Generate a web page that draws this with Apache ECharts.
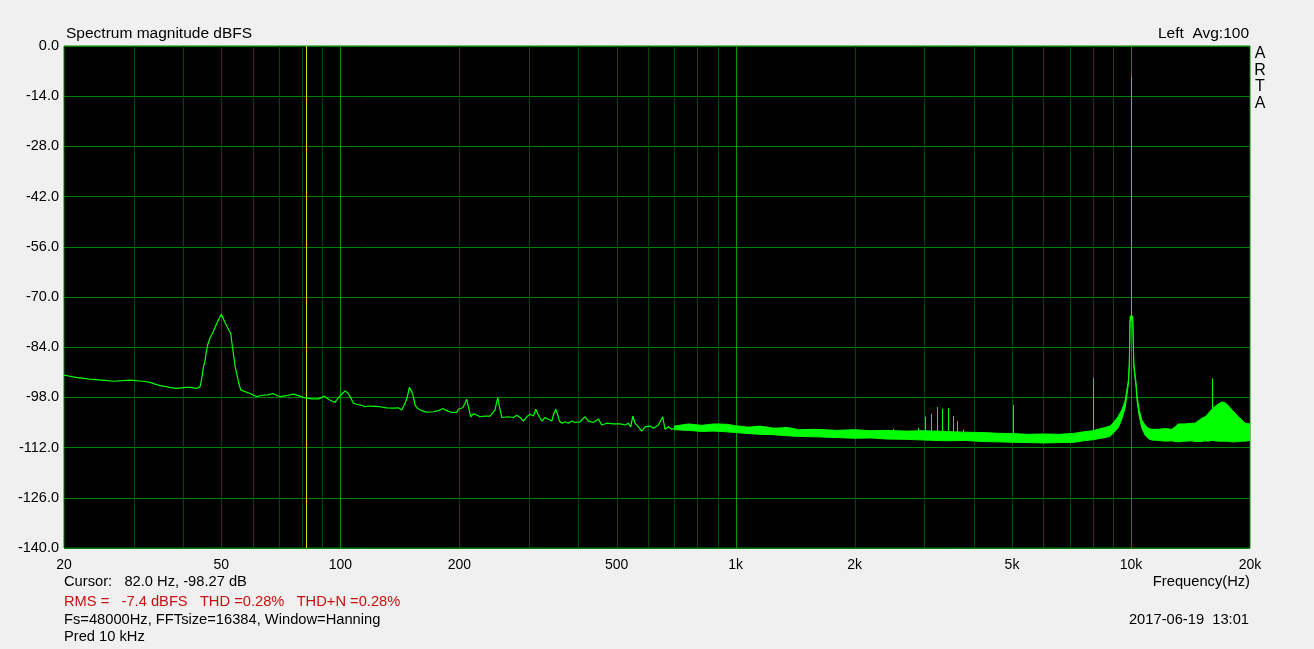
<!DOCTYPE html>
<html><head><meta charset="utf-8">
<script src="https://cdn.jsdelivr.net/npm/echarts@6/dist/echarts.min.js"></script>
<style>html,body{margin:0;padding:0;background:#f0f0f0;}#c{width:1314px;height:649px;}</style>
</head><body><div id="c"></div>
<script>
// ---- data ----
const xTickLabels = [20, 50, 100, 200, 500, 1000, 2000, 5000, 10000, 20000];
const gridMajorFreq = [100, 1000, 10000];
const gridMinorFreq = [30, 40, 50, 60, 70, 80, 90, 200, 300, 400, 500, 600, 700, 800, 900,
  2000, 3000, 4000, 5000, 6000, 7000, 8000, 9000];
const cursorFreq = [82.0];

// smooth low-frequency part of the spectrum (Hz, dBFS)
const lowFreq = [20.0, 20.7, 21.4, 22.5, 23.5, 25.0, 26.8, 29.4, 31.7, 33.0, 34.0, 35.0, 36.0, 36.9, 38.4,
  40.7, 41.7, 43.3, 43.7, 44.2, 44.6, 45.0, 45.5, 45.9, 46.3, 46.8, 47.7, 48.7, 50.0, 51.1, 52.1, 52.8,
  53.4, 54.2, 54.9, 55.4, 56.0, 57.4, 59.1, 61.5, 63.3, 65.7, 67.5, 69.0, 70.4, 72.5, 76.1, 78.3, 80.6,
  82.2, 84.7, 88.0, 89.7, 91.0, 93.3, 95.1, 97.0, 97.9, 99.8, 102.8, 104.8, 106.3, 107.9, 110.0, 113.3,
  115.5, 117.7, 122.0, 126.0, 131.0, 136.2, 140.2, 143.0, 145.8, 147.8, 149.5, 151.6, 153.0, 154.5,
  156.6, 160.7, 165.4, 171.9, 177.0, 181.6, 185.9, 191.3, 197.0, 198.8, 204.0, 206.7, 208.8, 210.8,
  213.8, 217.0, 221.3, 225.6, 232.3, 239.2, 246.3, 248.7, 250.2, 252.6, 256.1, 266.1, 273.9, 279.4,
  284.9, 290.4, 296.2, 302.0, 307.8, 312.2, 317.0, 323.3, 329.5, 336.0, 342.7, 345.9, 350.8, 354.8,
  358.2, 363.3, 370.3, 377.5, 385.0, 392.4, 404.0, 416.0, 424.0, 436.6, 449.4, 458.4, 472.0, 490.6,
  510.0, 525.2, 535.2, 542.8, 549.2, 556.6, 567.4, 578.6, 590.0, 607.4, 619.2, 637.4, 654.0, 662.8,
  675.8, 689.2, 709.6, 723.4];
const lowDb = [-91.8, -92.1, -92.4, -92.7, -93.0, -93.2, -93.5, -93.2, -93.5, -93.8, -94.3, -94.7, -94.9, -95.2, -95.5,
  -95.2, -95.2, -95.5, -95.7, -95.0, -92.7, -89.9, -87.6, -84.8, -82.9, -81.5, -79.7, -77.3, -74.8, -77.1, -79.0, -80.1,
  -84.3, -89.4, -92.2, -94.2, -95.9, -96.4, -96.9, -97.8, -97.4, -97.3, -96.9, -97.4, -97.8, -97.6, -97.1, -97.5, -98.0,
  -98.2, -98.4, -98.4, -98.0, -97.6, -98.5, -99.0, -99.4, -98.7, -97.6, -96.2, -96.9, -98.2, -99.6, -99.9, -100.2,
  -100.6, -100.4, -100.5, -100.6, -100.9, -101.0, -100.9, -101.5, -99.6, -97.8, -95.2, -96.4, -97.8, -100.1,
  -101.0, -101.7, -102.1, -102.0, -101.7, -101.1, -101.7, -102.2, -102.2, -101.3, -100.9, -99.6, -98.5, -100.6,
  -103.4, -102.6, -102.9, -103.4, -103.2, -103.2, -101.5, -99.2, -98.1, -100.6, -103.6, -103.4, -103.6, -103.0,
  -103.6, -104.6, -103.4, -102.7, -103.2, -101.3, -102.9, -104.6, -103.6, -104.1, -104.6, -102.9, -101.3, -102.9,
  -104.6, -105.2, -104.8, -105.2, -104.6, -105.0, -104.8, -103.4, -104.6, -105.0, -104.0, -105.7, -105.2, -105.4,
  -105.4, -105.7, -105.2, -106.2, -103.2, -105.2, -106.2, -107.4, -106.2, -106.0, -106.6, -105.7, -103.4, -106.9,
  -106.2, -106.9, -106.4, -106.9];

// dense noise floor above ~700 Hz: upper and lower envelope (Hz, dBFS)
const bandFreq = [700, 760, 820, 880, 950, 1000, 1080, 1150, 1250, 1350, 1450, 1600, 1800, 2000, 2200, 2400,
  2700, 3000, 3400, 3800, 4200, 4600, 5000, 5500, 6000, 6600, 7200, 7600, 8000, 8400, 8850, 9010, 9280,
  9480, 9660, 9760, 9850, 9900, 9948, 10100, 10170, 10283, 10365, 10490, 10648, 10854, 11066, 11288,
  11732, 12196, 12682, 12928, 13180, 13704, 14252, 14528, 15108, 15400, 15700, 16014, 16642, 16974,
  17300, 17638, 17990, 18340, 18696, 19070, 19438, 20000];
const bandTop = [-106.0, -105.4, -105.8, -105.4, -105.5, -105.9, -106.3, -106.0, -106.6, -106.4, -107.0, -106.9, -107.2, -107.0, -107.3, -107.2,
  -107.4, -107.3, -107.5, -107.7, -107.8, -108.0, -108.1, -108.3, -108.2, -108.3, -108.0, -107.6, -107.3, -106.7, -106.0, -105.2, -103.3,
  -101.5, -99.0, -96.0, -93.2, -88.7, -75.3, -75.3, -88.7, -93.1, -97.8, -101.5, -104.3, -105.7, -106.6, -106.9,
  -106.9, -106.7, -106.9, -106.2, -105.4, -105.4, -105.2, -105.2, -103.8, -103.4, -102.4, -101.3, -99.8, -99.3,
  -99.5, -100.3, -101.5, -102.4, -103.4, -104.3, -105.2, -105.4];
const bandBot = [-107.0, -107.2, -107.5, -107.4, -107.6, -107.8, -108.1, -108.3, -108.4, -108.7, -108.9, -109.0, -109.2, -109.4, -109.3, -109.6,
  -109.7, -109.9, -110.1, -110.0, -110.3, -110.4, -110.5, -110.6, -110.7, -110.6, -110.5, -110.1, -109.8, -109.4, -108.9, -108.0, -106.5,
  -104.0, -101.0, -97.6, -94.3, -89.8, -76.5, -76.5, -89.8, -94.3, -99.2, -103.2, -106.5, -108.5, -109.5, -109.9,
  -110.0, -110.2, -110.1, -110.3, -110.4, -110.2, -110.1, -110.3, -110.3, -110.1, -110.2, -110.0, -110.2, -110.2,
  -110.2, -110.3, -110.4, -110.4, -110.3, -110.2, -110.2, -110.0];

// narrow spectral lines (Hz, peak dBFS, foot dBFS)
const spikeFreq = [2500, 2900, 3020, 3125, 3235, 3335, 3435, 3540, 3640, 3750, 5040, 8030, 10000, 16030];
const spikeTop = [-106.8, -106.5, -103.4, -102.6, -100.7, -101.2, -101.0, -103.2, -104.6, -107.0, -100.1, -92.6, -8.6, -92.7];
const spikeBase = [-108.5, -108.5, -108.5, -108.5, -108.5, -108.5, -108.5, -108.5, -108.5, -108.5, -108.8, -108.5, -75.3, -101.0];

// ---- chart ----
const FONT = 'Liberation Sans, Arial, sans-serif';
const GREEN = '#00ff00';
const chart = echarts.init(document.getElementById('c'), null, {renderer: 'canvas'});

function vline(color) {
  return function (params, api) {
    const f = api.value(0);
    const a = api.coord([f, 0]);
    const b = api.coord([f, -140]);
    const x = Math.round(a[0]) + 0.5;
    return {type: 'line', shape: {x1: x, y1: a[1], x2: x, y2: b[1]}, style: {stroke: color, lineWidth: 1}};
  };
}

function txt(text, x, y, opts) {
  return {
    type: 'text', x: x, y: y, silent: true,
    style: Object.assign({text: text, fill: '#000', font: '15px ' + FONT, textAlign: 'left', textVerticalAlign: 'middle'}, opts || {})
  };
}

const option = {
  animation: false,
  backgroundColor: '#f0f0f0',
  grid: {left: 64, right: 64, top: 46, bottom: 101, show: true, backgroundColor: '#000', borderColor: '#008000', borderWidth: 1},
  xAxis: {
    type: 'log', logBase: 10, min: 20, max: 20000,
    axisLine: {show: false}, axisTick: {show: false}, splitLine: {show: false},
    axisLabel: {
      customValues: xTickLabels, margin: 10, color: '#000', fontFamily: FONT, fontSize: 14,
      formatter: v => (v >= 1000 ? (v / 1000) + 'k' : String(v))
    }
  },
  yAxis: {
    type: 'value', min: -140, max: 0, interval: 14,
    axisLine: {show: false}, axisTick: {show: false},
    splitLine: {show: true, lineStyle: {color: '#008000', width: 1}},
    axisLabel: {margin: 5, color: '#000', fontFamily: FONT, fontSize: 14.5, formatter: v => v.toFixed(1)}
  },
  series: [
    {type: 'custom', z: 1, silent: true, data: gridMinorFreq.map(f => [f, -70]), renderItem: vline('#004a00')},
    {type: 'custom', z: 1, silent: true, data: gridMajorFreq.map(f => [f, -70]), renderItem: vline('#009a00')},
    {type: 'custom', z: 2, silent: true, data: cursorFreq.map(f => [f, -70]), renderItem: vline('#e8d800')},
    {
      type: 'custom', z: 3, silent: true, clip: true,
      data: [[bandFreq[0], bandTop[0]]],
      renderItem: function (params, api) {
        const pts = [];
        for (let i = 0; i < bandFreq.length; i++) pts.push(api.coord([bandFreq[i], bandTop[i]]));
        for (let i = bandFreq.length - 1; i >= 0; i--) pts.push(api.coord([bandFreq[i], bandBot[i]]));
        return {type: 'polygon', shape: {points: pts}, style: {fill: GREEN, stroke: GREEN, lineWidth: 1}};
      }
    },
    {
      type: 'custom', z: 4, silent: true, clip: true,
      data: spikeFreq.map((f, i) => [f, spikeTop[i], spikeBase[i]]),
      encode: {x: 0, y: [1, 2]},
      renderItem: function (params, api) {
        const a = api.coord([api.value(0), api.value(1)]);
        const b = api.coord([api.value(0), api.value(2)]);
        const x = Math.round(a[0]) + 0.5;
        return {type: 'line', shape: {x1: x, y1: a[1], x2: x, y2: b[1]}, style: {stroke: GREEN, lineWidth: 1}};
      }
    },
    {
      type: 'line', z: 5, silent: true, symbol: 'none', showSymbol: false,
      data: lowFreq.map((f, i) => [f, lowDb[i]]),
      lineStyle: {color: GREEN, width: 1.2}
    }
  ],
  graphic: [
    txt('Spectrum magnitude dBFS', 66, 34, {font: '15.5px ' + FONT}),
    txt('Left  Avg:100', 1249, 34, {textAlign: 'right', font: '15.5px ' + FONT}),
    txt('A', 1260, 54, {textAlign: 'center', font: '16px ' + FONT}),
    txt('R', 1260, 71, {textAlign: 'center', font: '16px ' + FONT}),
    txt('T', 1260, 87, {textAlign: 'center', font: '16px ' + FONT}),
    txt('A', 1260, 104, {textAlign: 'center', font: '16px ' + FONT}),
    txt('Frequency(Hz)', 1250, 582, {textAlign: 'right', font: '14.7px ' + FONT}),
    txt('Cursor:   82.0 Hz, -98.27 dB', 64, 582, {font: '14.7px ' + FONT}),
    txt('RMS =   -7.4 dBFS   THD =0.28%   THD+N =0.28%', 64, 602, {font: '14.7px ' + FONT, fill: '#c81010'}),
    txt('Fs=48000Hz, FFTsize=16384, Window=Hanning', 64, 620, {font: '14.7px ' + FONT}),
    txt('2017-06-19  13:01', 1249, 620, {textAlign: 'right', font: '14.7px ' + FONT}),
    txt('Pred 10 kHz', 64, 637, {font: '14.7px ' + FONT})
  ]
};
chart.setOption(option);
</script>
</body></html>
